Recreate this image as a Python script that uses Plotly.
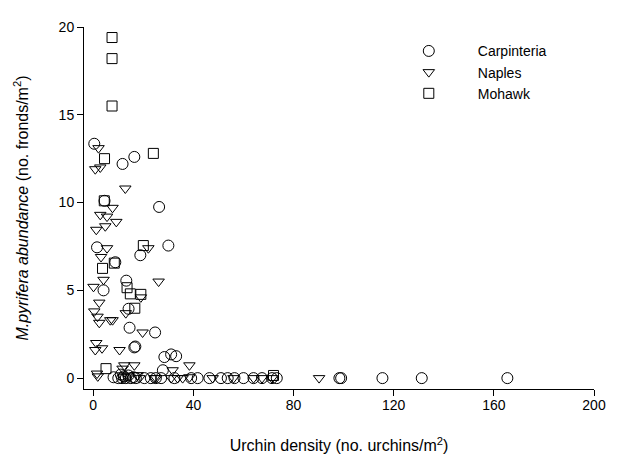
import plotly.graph_objects as go

# Carpinteria (circles)
carp_x = [0.4, 11.7, 16.4, 4.5, 26.3, 1.5, 30.0, 18.8, 8.8, 4.1, 13.2, 14.1, 14.5, 24.7, 16.8,
          28.4, 31.1, 33.1, 27.8, 16.4,
          8.1, 10.0, 11.0, 11.5, 12.2, 13.0, 14.0, 15.0, 16.0, 17.0, 20.4, 23.0, 25.0, 27.1,
          32.4, 39.1, 41.7, 46.4, 51.0, 53.7, 56.4, 60.0, 64.0, 67.4, 71.4, 73.3,
          98.3, 99.0, 115.5, 131.2, 165.4]
carp_y = [13.35, 12.2, 12.6, 10.1, 9.75, 7.45, 7.55, 7.0, 6.6, 5.0, 5.55, 3.95, 2.87, 2.6, 1.8,
          1.2, 1.35, 1.25, 0.45, 1.75,
          0.05, 0.0, 0.2, 0.0, 0.1, 0.0, 0.15, 0.0, 0.05, 0.0, 0.0, 0.0, 0.0, 0.0,
          0.0, 0.0, 0.0, 0.0, 0.0, 0.0, 0.0, 0.0, 0.0, 0.0, 0.0, 0.0,
          0.0, 0.0, 0.0, 0.0, 0.0]

# Naples (triangles)
nap_x = [2.1, 0.8, 2.8, 12.8, 7.7, 2.8, 5.5, 9.2, 1.2, 4.8, 5.5, 22.0, 3.1, 4.1, 0.1, 26.1,
         19.0, 13.0, 2.4, 0.4, 1.7, 2.4, 6.8, 7.7, 19.7, 1.2, 3.5, 0.8, 10.5, 38.4, 31.7,
         12.4, 16.4, 11.7, 17.7, 1.5, 1.8, 12.0, 14.0, 18.4, 24.4, 25.1, 31.1, 33.7, 35.7,
         38.4, 47.7, 56.0, 64.0, 67.4, 71.4, 90.2]
nap_y = [13.1, 11.9, 12.0, 10.8, 9.7, 9.3, 9.2, 8.9, 8.45, 8.65, 7.4, 7.4, 6.9, 5.6, 5.2, 5.5,
         4.6, 3.7, 4.3, 3.8, 3.5, 3.15, 3.3, 3.3, 2.6, 2.0, 1.7, 1.6, 1.6, 0.73, 0.45,
         0.73, 0.73, 0.54, 0.17, 0.26, 0.1, 0.05, 0.1, 0.0, 0.0, 0.0, 0.0, 0.0, 0.0,
         0.05, 0.0, 0.0, 0.0, 0.0, 0.0, 0.0]

# Mohawk (squares)
moh_x = [7.5, 7.5, 7.5, 4.5, 24.0, 4.4, 20.0, 8.4, 3.7, 13.5, 14.8, 19.0, 16.6, 5.1, 72.0]
moh_y = [19.4, 18.2, 15.5, 12.5, 12.8, 10.1, 7.55, 6.55, 6.25, 5.15, 4.8, 4.77, 3.98, 0.54, 0.15]

x_ticks = [0, 40, 80, 120, 160, 200]
y_ticks = [0, 5, 10, 15, 20]

FONT = "Liberation Sans, Arial, sans-serif"

def mk(x, y, name, symbol, size):
    return go.Scatter(
        x=x, y=y, mode="markers", name=name,
        marker=dict(symbol=symbol, size=size, color="black",
                    line=dict(color="black", width=1)),
    )

fig = go.Figure()
fig.add_trace(mk(carp_x, carp_y, "Carpinteria", "circle-open", 11))
fig.add_trace(mk(nap_x, nap_y, "Naples", "triangle-down-open", 10))
fig.add_trace(mk(moh_x, moh_y, "Mohawk", "square-open", 10))

fig.update_layout(
    width=626, height=465,
    margin=dict(l=76, r=40, t=11, b=84),
    paper_bgcolor="white", plot_bgcolor="white",
    font=dict(family=FONT, size=14, color="black"),
    showlegend=True,
    legend=dict(x=0.58, y=0.977, xanchor="left", yanchor="top",
                bgcolor="rgba(0,0,0,0)", font=dict(size=14), itemwidth=88),
    xaxis=dict(
        range=[-3.7, 200], tickvals=x_ticks, ticktext=[str(v) for v in x_ticks],
        showline=True, linecolor="black", linewidth=1,
        ticks="outside", ticklen=6, tickcolor="black",
        ticklabelstandoff=-3,
        showgrid=False, zeroline=False,
        title=dict(text="Urchin density (no. urchins/m<sup>2</sup>)", standoff=28,
                   font=dict(size=16)),
    ),
    yaxis=dict(
        range=[-0.62, 20], tickvals=y_ticks, ticktext=[str(v) for v in y_ticks],
        showline=True, linecolor="black", linewidth=1,
        ticks="outside", ticklen=6, tickcolor="black",
        showgrid=False, zeroline=False,
        title=dict(text="<i>M.pyrifera abundance</i> (no. fronds/m<sup>2</sup>)",
                   standoff=26, font=dict(size=16)),
    ),
)

fig.write_html("out.html")
